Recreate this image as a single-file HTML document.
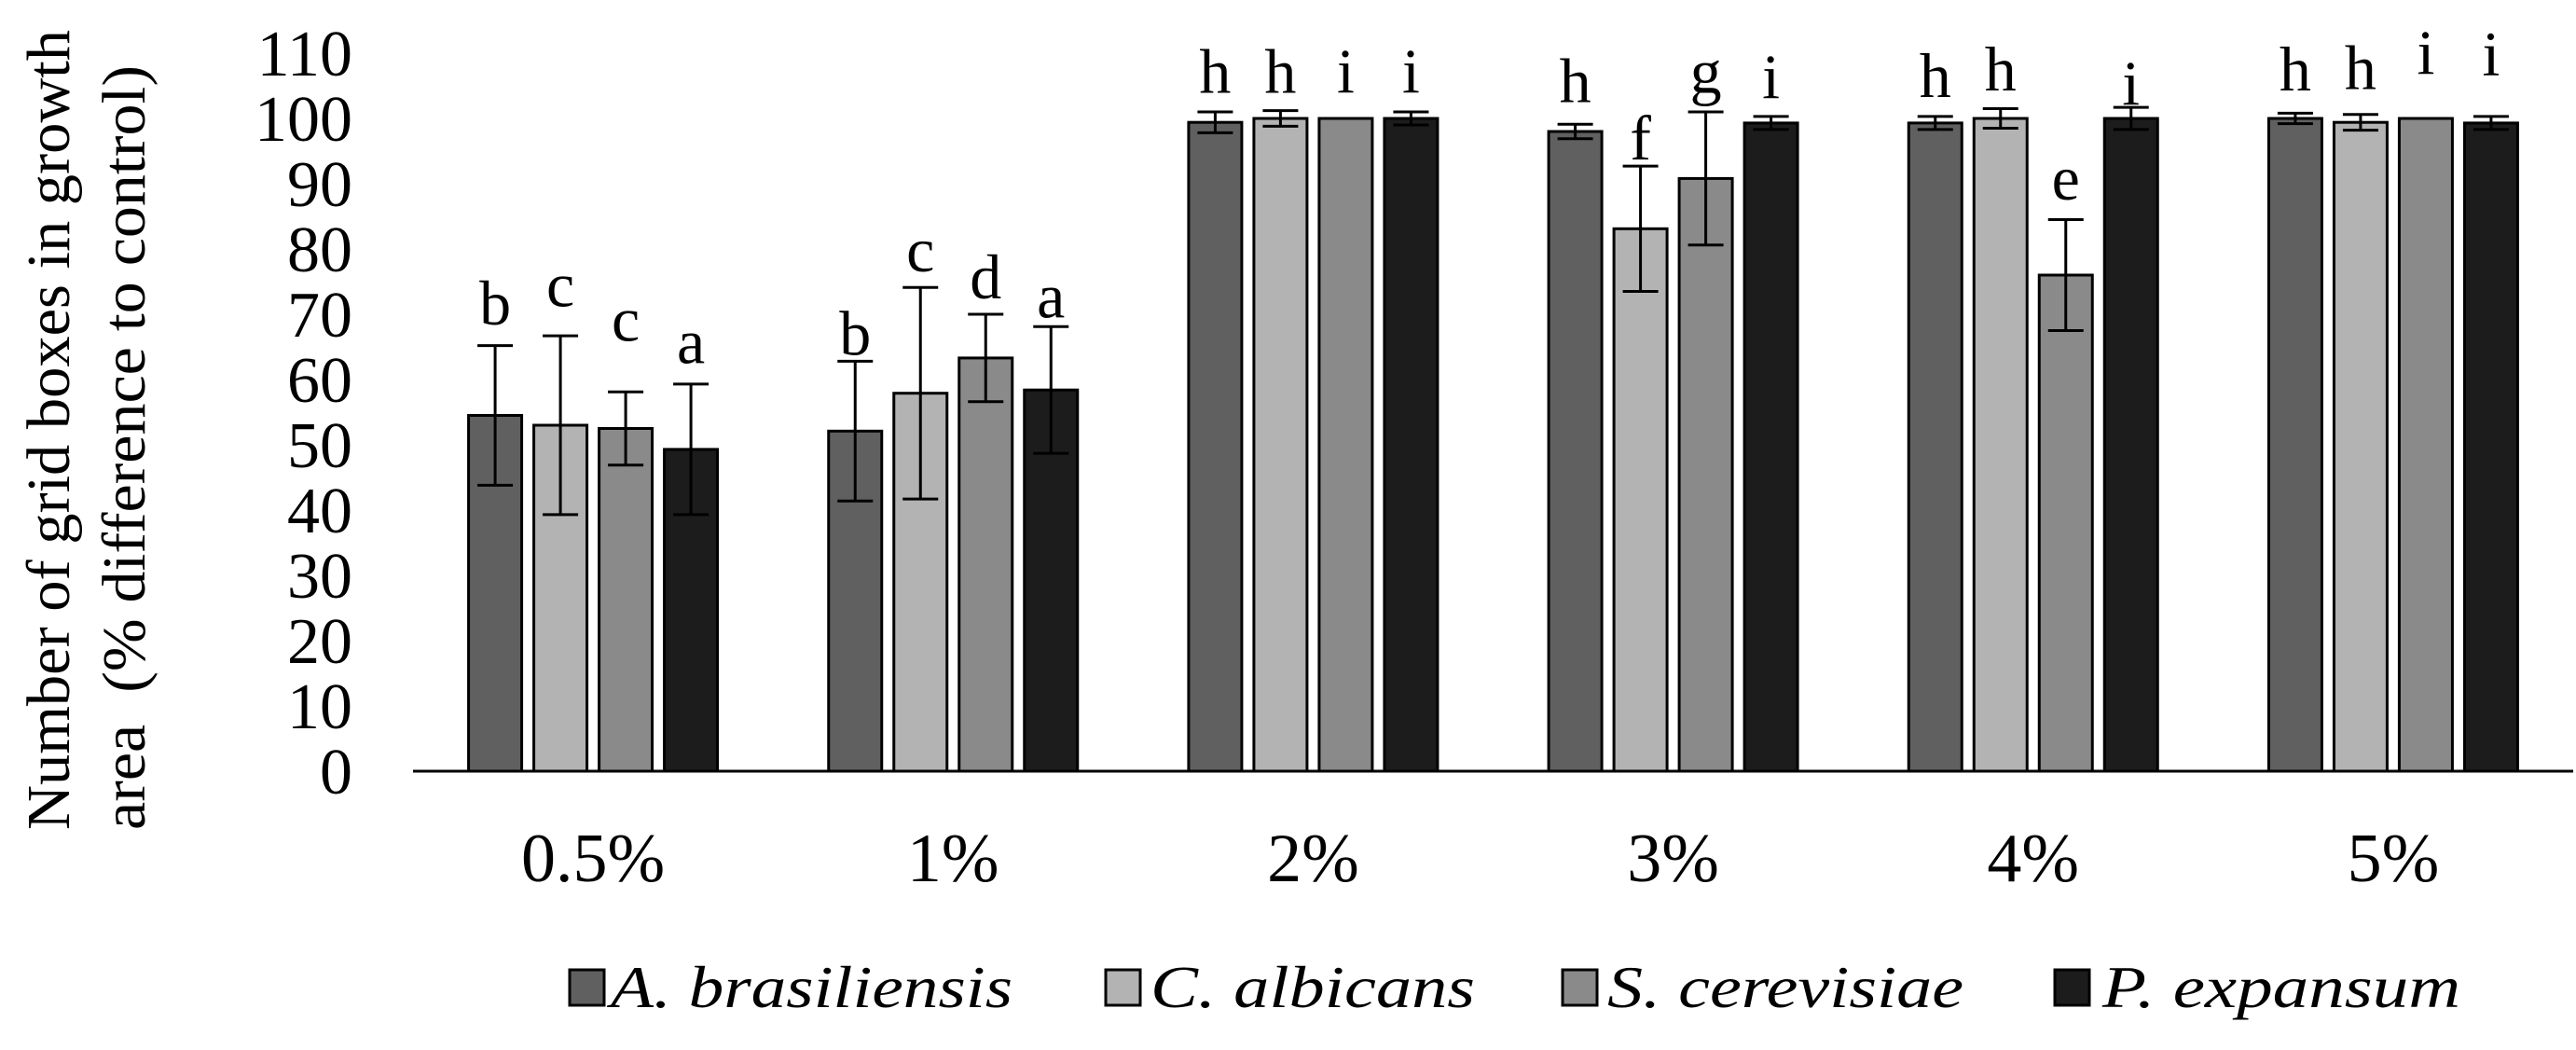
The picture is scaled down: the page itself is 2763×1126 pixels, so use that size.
<!DOCTYPE html>
<html><head><meta charset="utf-8"><style>
html,body{margin:0;padding:0;background:#fff;}
svg{display:block;font-family:"Liberation Serif","Times New Roman",serif;}
</style></head><body>
<svg id="chart" width="2763" height="1126" viewBox="0 0 2763 1126" xmlns="http://www.w3.org/2000/svg">
<g id="yaxis-title" font-size="66">
<text transform="translate(74,461) rotate(-90)" text-anchor="middle" textLength="858" lengthAdjust="spacingAndGlyphs">Number of grid boxes in growth</text>
<text transform="translate(155,480) rotate(-90)" text-anchor="middle" textLength="820" lengthAdjust="spacingAndGlyphs" xml:space="preserve">area  (% difference to control)</text>
</g>
<g id="ticks"></g>
<g id="bars"></g>
<g id="cats"></g>
<g id="legend"></g>
</svg>
<script>
const categories = ["0.5%","1%","2%","3%","4%","5%"];
const seriesNames = ["A. brasiliensis","C. albicans","S. cerevisiae","P. expansum"];
const aBras = [54.5,52.1,99.4,98.0,99.3,100];
const cAlb = [53.0,57.9,100,83.1,100,99.4];
const sCer = [52.5,63.3,100,90.8,76.0,100];
const pExp = [49.3,58.4,100,99.3,100,99.3];
const aBrasErr = [10.7,10.7,1.6,1.1,1.0,0.8];
const cAlbErr = [13.7,16.2,1.2,9.6,1.5,1.2];
const sCerErr = [5.6,6.7,0,10.2,8.5,0];
const pExpErr = [10.0,9.7,1.0,1.0,1.7,1.0];
const aBrasLetters = ["b","b","h","h","h","h"];
const cAlbLetters = ["c","c","h","f","h","h"];
const sCerLetters = ["c","d","i","g","e","i"];
const pExpLetters = ["a","a","i","i","i","i"];
const aBrasLetterAt = [68.4,63.8,103.9,102.5,103.3,104.3];
const cAlbLetterAt = [71.2,76.6,103.9,93.7,104.3,104.5];
const sCerLetterAt = [65.9,72.4,103.9,103.9,87.6,106.8];
const pExpLetterAt = [62.5,69.5,103.9,103.1,102.1,106.6];
const yTicks = [0,10,20,30,40,50,60,70,80,90,100,110];

const NS="http://www.w3.org/2000/svg";
const X0=443, X1=2760, Y0=827, PPU=7.0;
const catW=(X1-X0)/categories.length, barW=57, barPitch=70;
const colors=["#606060","#b3b3b3","#8a8a8a","#1c1c1c"];
const vals=[aBras,cAlb,sCer,pExp], errs=[aBrasErr,cAlbErr,sCerErr,pExpErr];
const letters=[aBrasLetters,cAlbLetters,sCerLetters,pExpLetters];
const letterAt=[aBrasLetterAt,cAlbLetterAt,sCerLetterAt,pExpLetterAt];
function y(v){return Y0-v*PPU;}
function bx(ci,si){return X0+ci*catW+(catW-(3*barPitch+barW))/2+si*barPitch;}
function mk(tag,attrs,parent){const e=document.createElementNS(NS,tag);for(const k in attrs)e.setAttribute(k,attrs[k]);parent.appendChild(e);return e;}

const tg=document.getElementById('ticks');
yTicks.forEach(t=>{
  const e=mk('text',{x:378,y:y(t)+24,'text-anchor':'end','font-size':70},tg);
  
  
  e.textContent=t;
});

const bg=document.getElementById('bars');
categories.forEach((c,ci)=>{
  vals.forEach((arr,si)=>{
    const v=arr[ci], x=bx(ci,si);
    const r=mk('rect',{x:x,y:y(v),width:barW,height:Y0-y(v),fill:colors[si],stroke:'#000','stroke-width':3},bg);
    
    
    const e=errs[si][ci], cx=x+barW/2;
    if(e>0){
      const g=mk('g',{stroke:'#000','stroke-width':3},bg);
      
      
      mk('line',{x1:cx,x2:cx,y1:y(v+e),y2:y(v-e)},g);
      mk('line',{x1:cx-19,x2:cx+19,y1:y(v+e),y2:y(v+e)},g);
      mk('line',{x1:cx-19,x2:cx+19,y1:y(v-e),y2:y(v-e)},g);
    }
    const t=mk('text',{x:cx,y:y(letterAt[si][ci]),'text-anchor':'middle','font-size':68},bg);
    
    
    t.textContent=letters[si][ci];
  });
});
const ax=mk('line',{x1:X0,x2:X1,y1:Y0,y2:Y0,stroke:'#000','stroke-width':3},bg);



const cg=document.getElementById('cats');
categories.forEach((c,ci)=>{
  const t=mk('text',{x:X0+catW*(ci+0.5),y:945,'text-anchor':'middle','font-size':74},cg);
  
  
  t.textContent=c;
});

const lg=document.getElementById('legend');
const boxX=[611,1186,1676,2204], txtX=[655,1234,1724,2255], txtW=[431,348,382,384];
seriesNames.forEach((n,i)=>{
  const g=mk('g',{},lg);
  
  
  mk('rect',{x:boxX[i],y:1040,width:37,height:38,fill:colors[i],stroke:'#000','stroke-width':3},g);
  const t=mk('text',{x:txtX[i],y:1080,'font-size':64,'font-style':'italic',textLength:txtW[i],lengthAdjust:'spacingAndGlyphs'},g);
  t.textContent=n;
});
</script>
</body></html>
